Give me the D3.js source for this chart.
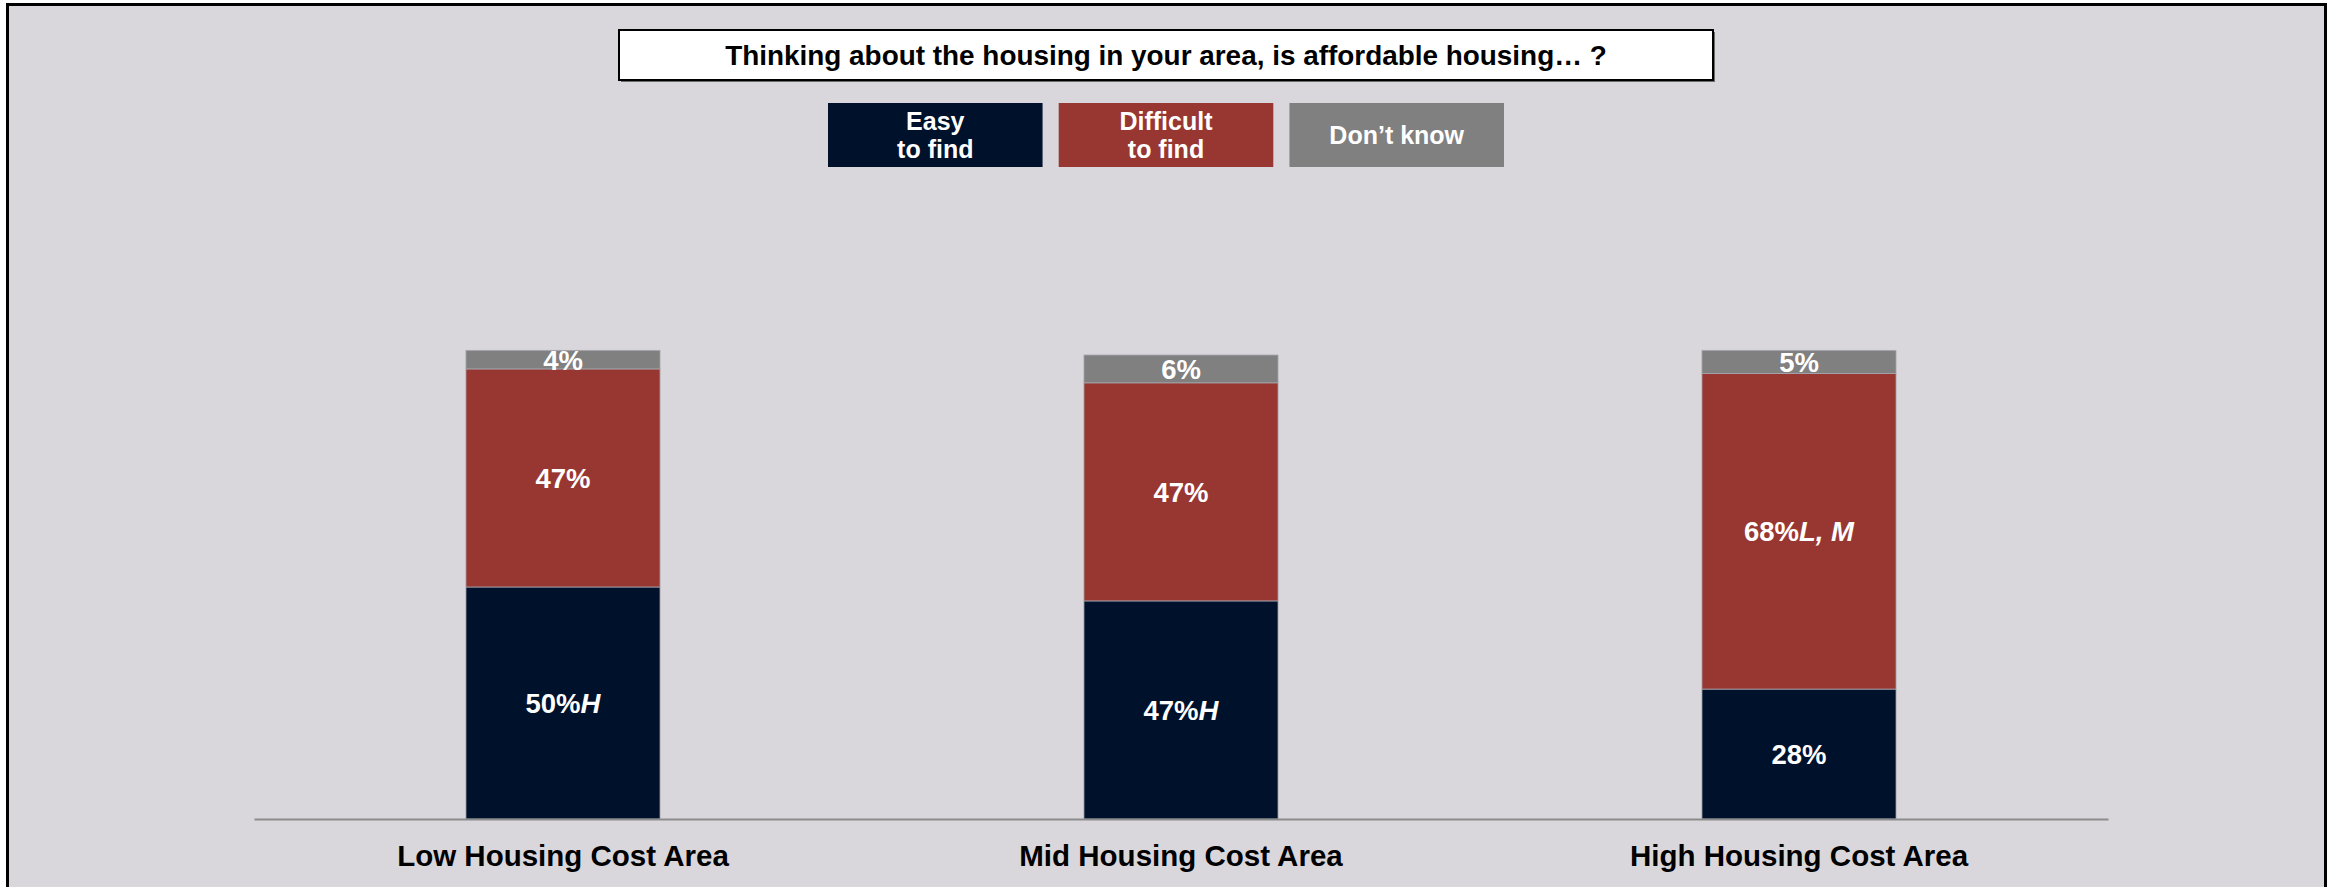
<!DOCTYPE html>
<html>
<head>
<meta charset="utf-8">
<script src="https://cdn.jsdelivr.net/npm/d3@7"></script>
<style>
  html, body { margin: 0; padding: 0; background: #ffffff; }
  svg { display: block; }
  text { font-family: "Liberation Sans", Arial, sans-serif; }
</style>
</head>
<body>
<svg id="chart" width="2331" height="887"></svg>
<script>
// Survey results: share of respondents by housing-cost area
const categories = ["Low Housing Cost Area", "Mid Housing Cost Area", "High Housing Cost Area"];
const seriesNames = ["Easy\nto find", "Difficult\nto find", "Don’t know"];
const easyValues = [50, 47, 28];
const difficultValues = [47, 47, 68];
const dontKnowValues = [4, 6, 5];
// Significance markers appended to labels (italic)
const easyMarks = ["H", "H", ""];
const difficultMarks = ["", "", "L, M"];
const dontKnowMarks = ["", "", ""];
const titleText = "Thinking about the housing in your area, is affordable housing… ?";

const colors = ["#00112c", "#983732", "#808080"];
const bgColor = "#d9d7dc";

const W = 2331, H = 887;
const svg = d3.select("#chart");

// Panel background with black frame
svg.append("rect")
  .attr("x", 7.5).attr("y", 4.5)
  .attr("width", 2318).attr("height", 900)
  .attr("fill", bgColor)
  .attr("stroke", "#000").attr("stroke-width", 3);

// Title box
const titleBox = { x: 619, y: 30, w: 1094, h: 50 };
svg.append("rect")
  .attr("x", titleBox.x + 2).attr("y", titleBox.y + 2)
  .attr("width", titleBox.w).attr("height", titleBox.h)
  .attr("fill", "#6b6b6b");
svg.append("rect")
  .attr("x", titleBox.x).attr("y", titleBox.y)
  .attr("width", titleBox.w).attr("height", titleBox.h)
  .attr("fill", "#fff").attr("stroke", "#000").attr("stroke-width", 2);
svg.append("text")
  .attr("x", titleBox.x + titleBox.w / 2).attr("y", titleBox.y + titleBox.h / 2)
  .attr("text-anchor", "middle").attr("dominant-baseline", "central")
  .attr("font-size", 27.9).attr("font-weight", "bold").attr("fill", "#000")
  .text(titleText);

// Legend as colored boxes with labels inside
const legendX = d3.scaleBand().domain(d3.range(seriesNames.length)).range([828, 1504]).paddingInner(0.07);
const legend = svg.append("g").selectAll("g").data(seriesNames).join("g")
  .attr("transform", (d, i) => `translate(${legendX(i)},103)`);
legend.append("rect")
  .attr("width", legendX.bandwidth()).attr("height", 64)
  .attr("fill", (d, i) => colors[i]);
legend.each(function(d) {
  const lines = d.split("\n");
  const t = d3.select(this).append("text")
    .attr("x", legendX.bandwidth() / 2)
    .attr("text-anchor", "middle")
    .attr("font-size", 25).attr("font-weight", "bold").attr("fill", "#fff");
  const lh = 28;
  const y0 = 32 - (lines.length - 1) * lh / 2;
  lines.forEach((l, j) => {
    t.append("tspan").attr("x", legendX.bandwidth() / 2)
      .attr("y", y0 + j * lh).attr("dominant-baseline", "central").text(l);
  });
});

// Scales
const x = d3.scaleBand().domain(categories).range([254, 2108])
  .paddingInner(0.686).paddingOuter(0.343);
const y = d3.scaleLinear().domain([0, 100]).range([819, 355]);

// Stack the three series
const rows = categories.map((c, i) => ({
  cat: c, easy: easyValues[i], difficult: difficultValues[i], dk: dontKnowValues[i],
  marks: [easyMarks[i], difficultMarks[i], dontKnowMarks[i]]
}));
const keys = ["easy", "difficult", "dk"];
const stacked = d3.stack().keys(keys)(rows);

const layers = svg.append("g").selectAll("g").data(stacked).join("g")
  .attr("fill", (d, i) => colors[i]);
layers.selectAll("rect").data(d => d).join("rect")
  .attr("x", d => x(d.data.cat))
  .attr("width", x.bandwidth())
  .attr("y", d => y(d[1]))
  .attr("height", d => y(d[0]) - y(d[1]))
  .attr("stroke", "#a7a6ad").attr("stroke-width", 0.8);

// Value labels centered in each segment
stacked.forEach((layer, li) => {
  layer.forEach(d => {
    const v = d[1] - d[0];
    const t = svg.append("text")
      .attr("x", x(d.data.cat) + x.bandwidth() / 2)
      .attr("y", (y(d[0]) + y(d[1])) / 2)
      .attr("text-anchor", "middle").attr("dominant-baseline", "central")
      .attr("font-size", 27.5).attr("font-weight", "bold").attr("fill", "#fff");
    t.append("tspan").text(v + "%");
    const m = d.data.marks[li];
    if (m) t.append("tspan").attr("font-style", "italic").text(m);
  });
});

// Category axis
const xAxis = svg.append("g").attr("transform", `translate(0,${y(0)})`)
  .call(d3.axisBottom(x).tickSize(0).tickPadding(26));
xAxis.select(".domain").attr("stroke", "#8c8c8c").attr("stroke-width", 2);
xAxis.selectAll("text")
  .attr("font-size", 29.5).attr("font-weight", "bold").attr("fill", "#000")
  .attr("font-family", "Liberation Sans, Arial, sans-serif");
</script>
</body>
</html>
